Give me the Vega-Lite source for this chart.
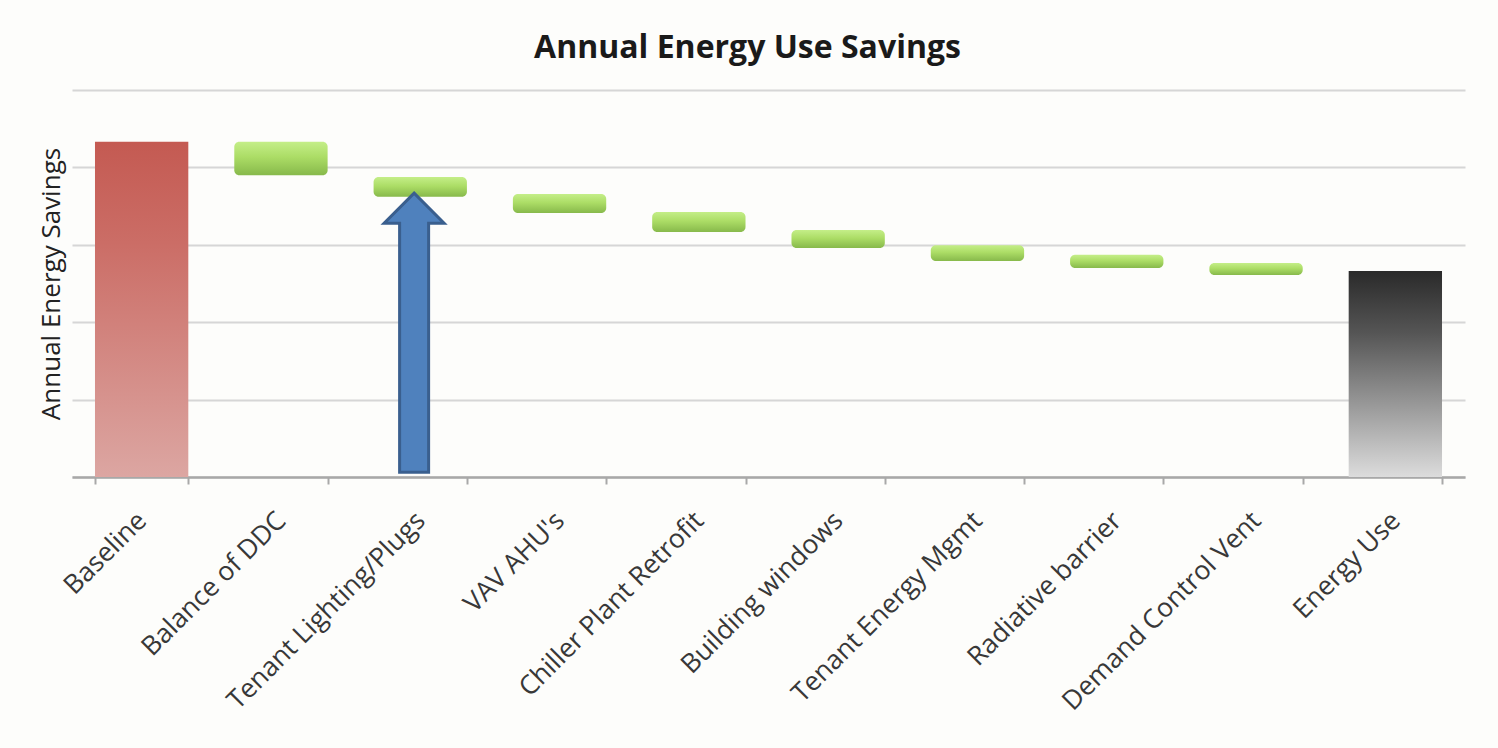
{
  "$schema": "https://vega.github.io/schema/vega-lite/v6.json",
  "width": 1393,
  "height": 387,
  "autosize": "none",
  "padding": {"left": 72, "top": 90, "right": 33, "bottom": 271},
  "background": "#fdfdfb",
  "title": {
    "text": "Annual Energy Use Savings",
    "font": "Open Sans",
    "fontSize": 32,
    "fontWeight": "bold",
    "color": "#1a1a1a",
    "anchor": "middle",
    "frame": "group",
    "baseline": "alphabetic",
    "offset": 0,
    "dx": -21
  },
  "config": {
    "view": {"stroke": null},
    "font": "Open Sans"
  },
  "datasets": {
    "steps": [
      {"category": "Baseline", "start": 0, "end": 86.6, "kind": "base"},
      {"category": "Balance of DDC", "start": 86.6, "end": 78.0, "kind": "saving"},
      {"category": "Tenant Lighting/Plugs", "start": 77.5, "end": 72.4, "kind": "saving"},
      {"category": "VAV AHU's", "start": 73.1, "end": 68.2, "kind": "saving"},
      {"category": "Chiller Plant Retrofit", "start": 68.5, "end": 63.3, "kind": "saving"},
      {"category": "Building windows", "start": 63.8, "end": 59.2, "kind": "saving"},
      {"category": "Tenant Energy Mgmt", "start": 59.9, "end": 55.8, "kind": "saving"},
      {"category": "Radiative barrier", "start": 57.4, "end": 54.0, "kind": "saving"},
      {"category": "Demand Control Vent", "start": 55.3, "end": 52.2, "kind": "saving"},
      {"category": "Energy Use", "start": 0, "end": 53.2, "kind": "total"}
    ],
    "arrow": [
      {"category": "Tenant Lighting/Plugs", "level": 37.3}
    ]
  },
  "encoding": {
    "x": {
      "field": "category",
      "type": "nominal",
      "sort": null,
      "scale": {
        "domain": ["Baseline", "Balance of DDC", "Tenant Lighting/Plugs", "VAV AHU's", "Chiller Plant Retrofit", "Building windows", "Tenant Energy Mgmt", "Radiative barrier", "Demand Control Vent", "Energy Use"],
        "paddingInner": 0.33,
        "paddingOuter": 0.165
      },
      "axis": {
        "title": null,
        "labelAngle": -45,
        "labelFont": "Open Sans",
        "labelFontSize": 26.5,
        "labelColor": "#383838",
        "labelLimit": 0,
        "labelPadding": 23,
        "labelOffset": -9,
        "domainColor": "#a8a8a8",
        "domainWidth": 2.5,
        "tickColor": "#a8a8a8",
        "tickWidth": 2,
        "tickSize": 7,
        "tickBand": "extent",
        "grid": false
      }
    }
  },
  "layer": [
    {
      "data": {"name": "steps"},
      "transform": [{"filter": "datum.kind === 'base'"}],
      "mark": {
        "type": "bar",
        "color": {
          "gradient": "linear", "x1": 0, "y1": 0, "x2": 0, "y2": 1,
          "stops": [
            {"offset": 0, "color": "#c45a52"},
            {"offset": 0.3, "color": "#cb6d66"},
            {"offset": 1, "color": "#dca6a2"}
          ]
        }
      },
      "encoding": {
        "y": {
          "field": "start",
          "type": "quantitative",
          "scale": {"domain": [0, 100], "nice": false},
          "axis": {
            "title": "Annual Energy Savings",
            "titleFont": "Open Sans",
            "titleFontSize": 26,
            "titleFontWeight": "normal",
            "titleColor": "#222222",
            "titlePadding": 8,
            "values": [0, 20, 40, 60, 80, 100],
            "labels": false,
            "ticks": false,
            "domain": false,
            "grid": true,
            "gridColor": "#d6d6d6",
            "gridWidth": 2
          }
        },
        "y2": {"field": "end"}
      }
    },
    {
      "data": {"name": "steps"},
      "transform": [{"filter": "datum.kind === 'saving'"}],
      "mark": {
        "type": "bar",
        "cornerRadius": 5,
        "color": {
          "gradient": "linear", "x1": 0, "y1": 0, "x2": 0, "y2": 1,
          "stops": [
            {"offset": 0, "color": "#c4ee88"},
            {"offset": 0.45, "color": "#acdd66"},
            {"offset": 1, "color": "#87b94b"}
          ]
        }
      },
      "encoding": {
        "y": {"field": "start", "type": "quantitative"},
        "y2": {"field": "end"}
      }
    },
    {
      "data": {"name": "steps"},
      "transform": [{"filter": "datum.kind === 'total'"}],
      "mark": {
        "type": "bar",
        "color": {
          "gradient": "linear", "x1": 0, "y1": 0, "x2": 0, "y2": 1,
          "stops": [
            {"offset": 0, "color": "#2a2a2a"},
            {"offset": 0.3, "color": "#555555"},
            {"offset": 1, "color": "#dcdcdc"}
          ]
        }
      },
      "encoding": {
        "y": {"field": "start", "type": "quantitative"},
        "y2": {"field": "end"}
      }
    },
    {
      "data": {"name": "arrow"},
      "mark": {
        "type": "point",
        "filled": true,
        "shape": "M -0.044 -1 L 0.171 -0.785 L 0.060 -0.785 L 0.060 1 L -0.148 1 L -0.148 -0.785 L -0.259 -0.785 Z",
        "size": 77841,
        "fill": "#4f81bd",
        "stroke": "#3a5f8e",
        "strokeWidth": 3,
        "opacity": 1,
        "fillOpacity": 1
      },
      "encoding": {
        "y": {"field": "level", "type": "quantitative"}
      }
    }
  ]
}
